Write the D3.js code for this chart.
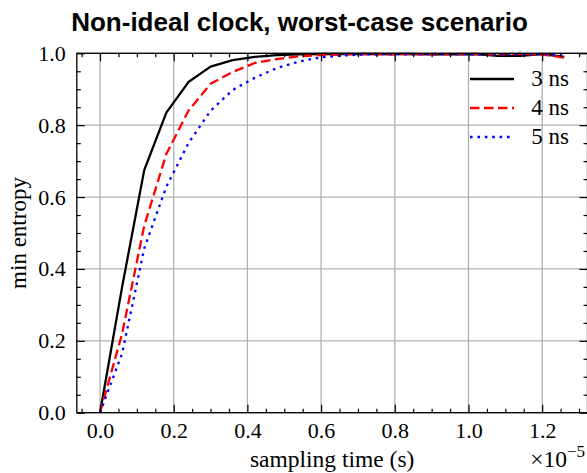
<!DOCTYPE html>
<html>
<head>
<meta charset="utf-8">
<script src="https://cdn.jsdelivr.net/npm/d3@7"></script>
<style>
  html, body { margin: 0; padding: 0; background: #fff; overflow: hidden; }
  svg { display: block; }
</style>
</head>
<body>
<svg id="chart" width="587" height="473"></svg>
<script>
// Sampling times (units of 1e-5 s)
const samplingTimes = [0, 0.06, 0.12, 0.18, 0.24, 0.30, 0.36, 0.42, 0.48, 0.54, 0.60,
  0.66, 0.72, 0.78, 0.84, 0.90, 0.96, 1.02, 1.08, 1.14, 1.20, 1.26];

// Min entropy for each clock jitter
const entropy3ns = [0, 0.35, 0.675, 0.835, 0.92, 0.963, 0.981, 0.99, 0.995, 0.997, 0.998,
  0.998, 0.998, 0.998, 0.998, 0.997, 0.997, 0.998, 0.993, 0.993, 0.998, 0.99];
const entropy4ns = [0, 0.22, 0.52, 0.72, 0.84, 0.915, 0.948, 0.973, 0.984, 0.992, 0.995,
  0.997, 0.998, 0.997, 0.998, 0.997, 0.998, 0.998, 0.997, 0.998, 0.997, 0.988];
const entropy5ns = [0, 0.165, 0.457, 0.629, 0.75, 0.84, 0.898, 0.932, 0.959, 0.977, 0.989,
  0.994, 0.997, 0.998, 0.997, 0.998, 0.998, 0.997, 0.998, 0.997, 0.998, 0.993];

const seriesLabels = ["3 ns", "4 ns", "5 ns"];

const xMajorTicks = [0.0, 0.2, 0.4, 0.6, 0.8, 1.0, 1.2];
const xMinorTicks = [-0.05, 0.05, 0.1, 0.15, 0.25, 0.3, 0.35, 0.45, 0.5, 0.55, 0.65, 0.7, 0.75,
  0.85, 0.9, 0.95, 1.05, 1.1, 1.15, 1.25, 1.3];
const yMajorTicks = [0.0, 0.2, 0.4, 0.6, 0.8, 1.0];
const yMinorTicks = [0.05, 0.1, 0.15, 0.25, 0.3, 0.35, 0.45, 0.5, 0.55, 0.65, 0.7, 0.75,
  0.85, 0.9, 0.95];

const series = [
  { label: seriesLabels[0], values: entropy3ns, color: "#000000", dash: null },
  { label: seriesLabels[1], values: entropy4ns, color: "#ff0000", dash: "9.5,4.5" },
  { label: seriesLabels[2], values: entropy5ns, color: "#0000ff", dash: "2.6,4.8" }
];

const plot = { left: 76.8, right: 587.5, top: 53.3, bottom: 412.7 };
const serif = "'Liberation Serif', 'Times New Roman', serif";

const svg = d3.select("#chart");

const x = d3.scaleLinear().domain([-0.063, 1.323]).range([plot.left, plot.right]);
const y = d3.scaleLinear().domain([0, 1]).range([plot.bottom, plot.top]);

// Title
svg.append("text")
  .attr("x", 299.5).attr("y", 31)
  .attr("text-anchor", "middle")
  .style("font-family", "'Liberation Sans', Arial, sans-serif")
  .style("font-weight", "bold")
  .style("font-size", "26px")
  .text("Non-ideal clock, worst-case scenario");

// Grid
const grid = svg.append("g");
grid.selectAll("line.gx").data(xMajorTicks).join("line")
  .attr("x1", d => x(d)).attr("x2", d => x(d))
  .attr("y1", plot.top).attr("y2", plot.bottom)
  .attr("stroke", "#b0b0b0").attr("stroke-width", 1.3);
grid.selectAll("line.gy").data(yMajorTicks).join("line")
  .attr("x1", plot.left).attr("x2", plot.right)
  .attr("y1", d => y(d)).attr("y2", d => y(d))
  .attr("stroke", "#b0b0b0").attr("stroke-width", 1.3);

// Data lines
const line = d3.line()
  .x((d, i) => x(samplingTimes[i]))
  .y(d => y(d));

svg.append("defs").append("clipPath").attr("id", "plotClip")
  .append("rect")
  .attr("x", plot.left).attr("y", plot.top - 2)
  .attr("width", plot.right - plot.left).attr("height", plot.bottom - plot.top + 2);

const lines = svg.append("g").attr("clip-path", "url(#plotClip)");
series.forEach(s => {
  lines.append("path")
    .datum(s.values)
    .attr("d", line)
    .attr("fill", "none")
    .attr("stroke", s.color)
    .attr("stroke-width", 2.3)
    .attr("stroke-linejoin", "round")
    .attr("stroke-dasharray", s.dash);
});

// Axes with inward ticks on all four sides
function styleAxis(g) {
  g.select(".domain").remove();
  g.selectAll(".tick line").attr("stroke", "#000").attr("stroke-width", 1.2);
  g.selectAll("text")
    .style("font-family", serif)
    .style("font-size", "22px")
    .attr("fill", "#000");
}

const fmt = d3.format(".1f");

svg.append("g").attr("transform", `translate(0,${plot.bottom})`)
  .call(d3.axisBottom(x).tickValues(xMajorTicks).tickFormat(fmt).tickSize(-8).tickPadding(10))
  .call(styleAxis);
svg.append("g").attr("transform", `translate(0,${plot.bottom})`)
  .call(d3.axisBottom(x).tickValues(xMinorTicks).tickFormat("").tickSize(-4))
  .call(styleAxis);
svg.append("g").attr("transform", `translate(0,${plot.top})`)
  .call(d3.axisTop(x).tickValues(xMajorTicks).tickFormat("").tickSize(-8))
  .call(styleAxis);
svg.append("g").attr("transform", `translate(0,${plot.top})`)
  .call(d3.axisTop(x).tickValues(xMinorTicks).tickFormat("").tickSize(-4))
  .call(styleAxis);

svg.append("g").attr("transform", `translate(${plot.left},0)`)
  .call(d3.axisLeft(y).tickValues(yMajorTicks).tickFormat(fmt).tickSize(-8).tickPadding(11))
  .call(styleAxis);
svg.append("g").attr("transform", `translate(${plot.left},0)`)
  .call(d3.axisLeft(y).tickValues(yMinorTicks).tickFormat("").tickSize(-4))
  .call(styleAxis);
svg.append("g").attr("transform", `translate(${plot.right},0)`)
  .call(d3.axisRight(y).tickValues(yMajorTicks).tickFormat("").tickSize(-8))
  .call(styleAxis);
svg.append("g").attr("transform", `translate(${plot.right},0)`)
  .call(d3.axisRight(y).tickValues(yMinorTicks).tickFormat("").tickSize(-4))
  .call(styleAxis);

// Frame
svg.append("rect")
  .attr("x", plot.left).attr("y", plot.top)
  .attr("width", plot.right - plot.left).attr("height", plot.bottom - plot.top)
  .attr("fill", "none").attr("stroke", "#000").attr("stroke-width", 1.3);

// Axis labels
svg.append("text")
  .attr("x", (plot.left + plot.right) / 2).attr("y", 467)
  .attr("text-anchor", "middle")
  .style("font-family", serif).style("font-size", "23.5px")
  .text("sampling time (s)");

svg.append("text")
  .attr("transform", `translate(26,${(plot.top + plot.bottom) / 2}) rotate(-90)`)
  .attr("text-anchor", "middle")
  .style("font-family", serif).style("font-size", "23px")
  .text("min entropy");

// Offset multiplier
const mult = svg.append("text")
  .attr("x", 585).attr("y", 467)
  .attr("text-anchor", "end")
  .style("font-family", serif).style("font-size", "23.5px");
mult.append("tspan").text("×10");
mult.append("tspan").attr("dy", -10).style("font-size", "17px").text("−5");

// Legend
const legendRows = [79, 108, 137];
const legend = svg.append("g");
series.forEach((s, i) => {
  legend.append("line")
    .attr("x1", 470).attr("x2", 514)
    .attr("y1", legendRows[i]).attr("y2", legendRows[i])
    .attr("stroke", s.color).attr("stroke-width", 2.3)
    .attr("stroke-dasharray", s.dash);
  legend.append("text")
    .attr("x", 569).attr("y", legendRows[i] + 7)
    .attr("text-anchor", "end")
    .style("font-family", serif).style("font-size", "23px")
    .text(s.label);
});
</script>
</body>
</html>
